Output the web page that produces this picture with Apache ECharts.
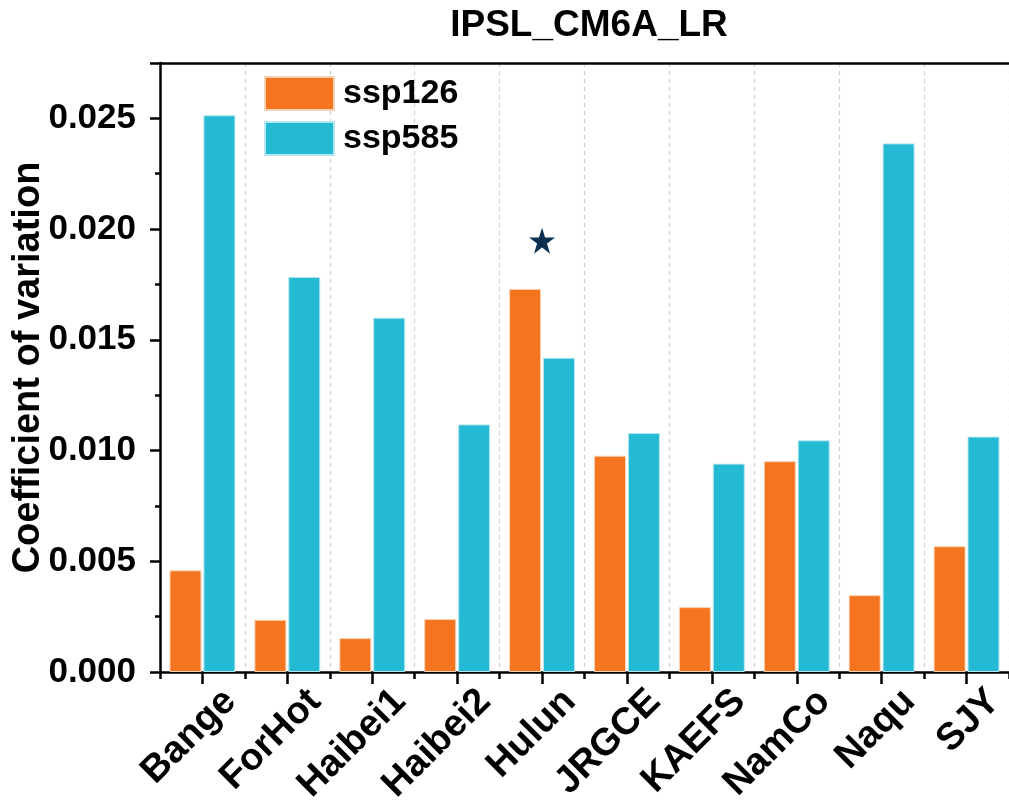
<!DOCTYPE html>
<html>
<head>
<meta charset="utf-8">
<script src="https://cdn.jsdelivr.net/npm/echarts@6/dist/echarts.min.js"></script>
<style>
  html, body { margin: 0; padding: 0; background: #fff; }
  #chart { width: 1009px; height: 805px; }
</style>
</head>
<body>
<div id="chart"></div>
<script>
// Sites and coefficient of variation per scenario
const sites = ['Bange', 'ForHot', 'Haibei1', 'Haibei2', 'Hulun', 'JRGCE', 'KAEFS', 'NamCo', 'Naqu', 'SJY'];
const ssp126 = [0.00459, 0.00236, 0.00153, 0.00239, 0.01730, 0.00977, 0.00293, 0.00952, 0.00347, 0.00568];
const ssp585 = [0.02514, 0.01784, 0.01600, 0.01118, 0.01419, 0.01079, 0.00941, 0.01046, 0.02387, 0.01063];
// Significance marker
const starSite = 'Hulun';
const starValue = 0.01947;

const FONT = '"Liberation Sans", Arial, sans-serif';
const ORANGE = '#F5741F';
const CYAN = '#25BAD3';
const STAR = 'path://M50,0 L61.8,35.4 L100,35.4 L69.1,57.3 L80.9,95.1 L50,72.4 L19.1,95.1 L30.9,57.3 L0,35.4 L38.2,35.4 Z';

const chart = echarts.init(document.getElementById('chart'), null, { renderer: 'canvas' });
chart.setOption({
  animation: false,
  backgroundColor: '#fff',
  title: {
    text: 'IPSL_CM6A_LR',
    left: 584,
    textAlign: 'center',
    top: 2,
    textStyle: { fontFamily: FONT, fontSize: 37, fontWeight: 'bold', color: '#000' }
  },
  legend: {
    data: ['ssp126', 'ssp585'],
    orient: 'vertical',
    left: 264,
    top: 76,
    padding: 0,
    icon: 'rect',
    itemWidth: 69,
    itemHeight: 33,
    itemGap: 10,
    textStyle: { fontFamily: FONT, fontSize: 34, fontWeight: 'bold', color: '#000', padding: [0, 0, 0, 4] }
  },
  grid: { left: 160, right: 0, top: 63, bottom: 133, containLabel: false, outerBoundsMode: 'none' },
  xAxis: [
    {
      type: 'category',
      data: sites,
      position: 'bottom',
      axisLine: { show: true, lineStyle: { color: '#000', width: 2.5 } },
      axisTick: { show: true, alignWithLabel: true, length: 12, lineStyle: { color: '#000', width: 2.5 } },
      axisLabel: {
        rotate: 45, margin: -4, interval: 0,
        verticalAlign: 'top',
        padding: [20, 0, 0, 0],
        fontFamily: FONT, fontSize: 38, fontWeight: 'bold', color: '#000'
      },
      splitLine: { show: false }
    },
    {
      type: 'category',
      data: sites,
      position: 'bottom',
      axisLine: { show: false },
      axisTick: { show: true, length: 7, lineStyle: { color: '#000', width: 2.5 } },
      axisLabel: { show: false },
      splitLine: { show: true, lineStyle: { color: '#cfcfcf', width: 1.2, type: [4, 4] } }
    },
    {
      type: 'category',
      data: sites,
      position: 'top',
      axisLine: { show: true, lineStyle: { color: '#000', width: 2.5 } },
      axisTick: { show: false },
      axisLabel: { show: false }
    }
  ],
  yAxis: {
    type: 'value',
    min: 0,
    max: 0.0275,
    interval: 0.005,
    name: 'Coefficient of variation',
    nameLocation: 'middle',
    nameGap: 112,
    nameMoveOverlap: false,
    nameRotate: 90,
    nameTextStyle: { fontFamily: FONT, fontSize: 38, fontWeight: 'bold', color: '#000' },
    axisLine: { show: true, lineStyle: { color: '#000', width: 2.5 } },
    axisTick: { show: true, length: 10, lineStyle: { color: '#000', width: 2.5 } },
    minorTick: { show: true, splitNumber: 2, length: 5, lineStyle: { color: '#000', width: 2.5 } },
    axisLabel: {
      margin: 24, showMaxLabel: false,
      fontFamily: FONT, fontSize: 35, fontWeight: 'bold', color: '#000',
      formatter: v => v.toFixed(3)
    },
    splitLine: { show: false }
  },
  series: [
    {
      name: 'ssp126', type: 'bar', data: ssp126,
      barWidth: 32, barGap: '6%',
      itemStyle: { color: ORANGE, borderColor: '#fbd2b4', borderWidth: 1 }
    },
    {
      name: 'ssp585', type: 'bar', data: ssp585,
      barWidth: 32,
      itemStyle: { color: CYAN, borderColor: '#b6e6ef', borderWidth: 1 }
    },
    {
      name: 'marker', type: 'scatter',
      data: [[starSite, starValue]],
      symbol: STAR, symbolSize: 26,
      itemStyle: { color: '#0B3050', opacity: 1 },
      z: 5
    }
  ]
});
</script>
</body>
</html>
